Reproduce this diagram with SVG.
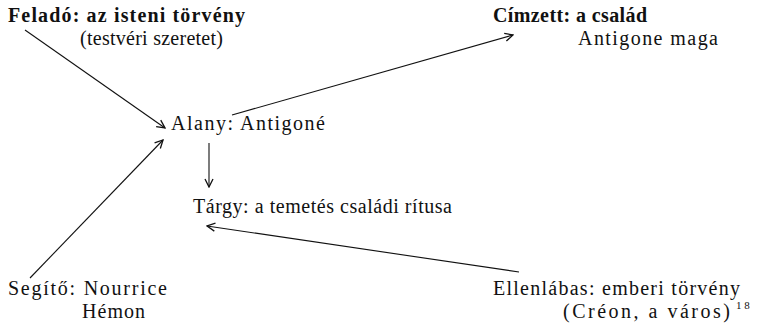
<svg xmlns="http://www.w3.org/2000/svg" width="765" height="325" viewBox="0 0 765 325">
<defs>
<marker id="arr" viewBox="0 0 10 10" refX="9" refY="5" markerWidth="10" markerHeight="10" markerUnits="userSpaceOnUse" orient="auto">
<path d="M1,1 L9,5 L1,9" fill="none" stroke="#111" stroke-width="1.3"/>
</marker>
</defs>
<style>
text{font-family:"Liberation Serif","Times New Roman",serif;font-size:20px;fill:#111}
.b{font-weight:bold}
.c line{stroke:#111;stroke-width:1.1;marker-end:url(#arr)}
</style>
<rect width="765" height="325" fill="#fff"/>
<g id="felado">
<text x="8" y="22" class="b" textLength="237" lengthAdjust="spacing">Feladó: az isteni törvény</text>
<text x="80" y="45" textLength="143" lengthAdjust="spacing">(testvéri szeretet)</text>
</g>
<g id="cimzett">
<text x="493" y="22" class="b" textLength="154" lengthAdjust="spacing">Címzett: a család</text>
<text x="578" y="45" textLength="140" lengthAdjust="spacing">Antigone maga</text>
</g>
<g id="alany">
<text x="171" y="130" textLength="154" lengthAdjust="spacing">Alany: Antigoné</text>
</g>
<g id="targy">
<text x="193" y="213" textLength="259" lengthAdjust="spacing">Tárgy: a temetés családi rítusa</text>
</g>
<g id="segito">
<text x="8" y="295" textLength="159" lengthAdjust="spacing">Segítő: Nourrice</text>
<text x="82" y="318" textLength="63" lengthAdjust="spacing">Hémon</text>
</g>
<g id="ellenlabas">
<text x="493" y="295" textLength="247" lengthAdjust="spacing">Ellenlábas: emberi törvény</text>
<text x="563" y="318" textLength="167" lengthAdjust="spacing">(Créon, a város)</text>
<text x="736" y="309" style="font-size:11px">1 8</text>
</g>
<g class="c" id="connectors">
<line x1="25" y1="30" x2="165" y2="128"/>
<line x1="30" y1="278" x2="163" y2="140"/>
<line x1="232" y1="115" x2="513" y2="35"/>
<line x1="209" y1="143" x2="209" y2="187"/>
<line x1="519" y1="272" x2="207" y2="226"/>
</g>
</svg>
